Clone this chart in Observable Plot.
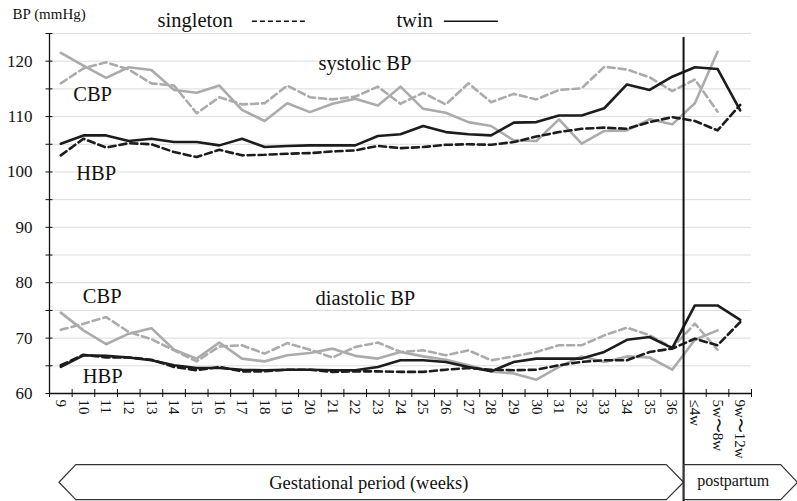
<!DOCTYPE html>
<html><head><meta charset="utf-8">
<script src="https://cdn.jsdelivr.net/npm/d3@7"></script>
<script src="https://cdn.jsdelivr.net/npm/@observablehq/plot@0.6"></script>
<style>body{margin:0;background:#fff} svg{display:block;overflow:visible} svg text{font-family:"Liberation Serif","Times New Roman",serif !important}</style>
</head><body><div id="chart"></div>
<script>
// Categories
const weeks = ["9","10","11","12","13","14","15","16","17","18","19","20","21","22","23","24","25","26","27","28","29","30","31","32","33","34","35","36"];
const postpartum = ["≤4w","5w〜8w","9w〜12w"];
const xLabels = [...weeks, ...postpartum];

// Systolic BP (mmHg)
const sysCBPtwin   = [121.5,119.2,117.0,118.9,118.4,114.8,114.3,115.6,111.2,109.2,112.4,110.8,112.3,113.2,112.0,115.4,111.4,110.7,109.0,108.3,105.7,105.6,109.5,105.1,107.4,107.5,109.5,108.6,112.4,121.7,null];
const sysCBPsingle = [116.0,118.7,119.8,118.5,116.0,115.6,110.6,113.5,112.2,112.4,115.6,113.5,113.1,113.6,115.4,112.3,114.3,112.2,116.0,112.6,114.1,113.1,114.8,115.1,119.0,118.5,117.1,114.6,116.7,110.9,null];
const sysHBPtwin   = [105.1,106.6,106.6,105.6,106.0,105.4,105.4,104.8,106.0,104.5,104.7,104.8,104.8,104.8,106.5,106.8,108.3,107.2,106.8,106.6,108.9,109.0,110.2,110.2,111.5,115.8,114.8,117.2,118.9,118.6,111.1];
const sysHBPsingle = [103.0,106.0,104.4,105.2,105.0,103.6,102.7,104.0,103.0,103.1,103.3,103.4,103.7,103.9,104.7,104.3,104.5,104.9,105.0,104.9,105.4,106.4,107.2,107.8,108.0,107.8,109.0,109.9,109.2,107.5,112.1];
// Diastolic BP (mmHg)
const diaCBPtwin   = [74.6,71.4,68.9,70.8,71.8,67.9,66.3,69.2,66.3,65.8,66.9,67.3,68.1,66.8,66.3,67.5,66.7,66.1,65.1,64.0,63.6,62.5,64.8,66.7,65.7,66.7,66.5,64.3,69.7,71.4,null];
const diaCBPsingle = [71.5,72.6,73.8,71.1,69.8,67.8,65.8,68.5,68.7,67.2,69.1,67.9,66.5,68.4,69.2,67.5,67.8,66.9,67.8,66.0,66.7,67.5,68.7,68.7,70.5,71.9,70.5,68.3,72.6,67.9,null];
const diaHBPtwin   = [64.8,66.9,66.8,66.5,66.0,65.1,64.6,64.6,64.3,64.2,64.3,64.3,64.2,64.2,64.8,66.0,66.0,65.7,64.8,64.0,65.7,66.3,66.3,66.3,67.5,69.7,70.2,68.2,75.9,75.9,73.3];
const diaHBPsingle = [65.1,67.0,66.5,66.5,66.1,64.8,64.2,64.8,64.0,64.0,64.3,64.3,63.9,64.0,64.0,63.9,63.9,64.3,64.6,64.3,64.2,64.3,65.1,65.7,66.0,66.0,67.5,68.1,69.9,68.7,72.9];

const yLabelTicks = [60,65,70,75,80,85,90,95,100,105,110,115,120,125];

const GRAY = "#ababab", BLACK = "#1c1c1c";
const series = [
  {values: sysCBPsingle, stroke: GRAY, dash: "7,4"},
  {values: sysCBPtwin,   stroke: GRAY, dash: null},
  {values: diaCBPsingle, stroke: GRAY, dash: "7,4"},
  {values: diaCBPtwin,   stroke: GRAY, dash: null},
  {values: sysHBPsingle, stroke: BLACK, dash: "7,4"},
  {values: sysHBPtwin,   stroke: BLACK, dash: null},
  {values: diaHBPsingle, stroke: BLACK, dash: "7,4"},
  {values: diaHBPtwin,   stroke: BLACK, dash: null}
];
const toRows = vals => vals.map((v, i) => ({i, v})).filter(d => d.v != null);

const idx = xLabels.map((_, i) => i);
const bounds = [...idx.map(i => i - 0.5), xLabels.length - 0.5];
const split = weeks.length - 0.5;
const serif = "Liberation Serif";

// annotation texts (data coordinates)
const notes = [
  {x: 0.55, y: 112.8, t: "CBP"},
  {x: 0.68, y: 98.5, t: "HBP"},
  {x: 11.38, y: 118.5, t: "systolic BP"},
  {x: 0.97, y: 76.4, t: "CBP"},
  {x: 0.97, y: 61.9, t: "HBP"},
  {x: 11.25, y: 76.0, t: "diastolic BP"}
];
const gestShape = [[-0.08,43.97],[0.66,47.17],[26.74,47.17],[split,43.97],[26.74,40.84],[0.66,40.84],[-0.08,43.97]].map(([x,y])=>({x,y}));
const postShape = [[split,47.17],[31.79,47.17],[32.53,43.97],[31.79,40.84],[split,40.84],[split,47.17]].map(([x,y])=>({x,y}));

const chart = Plot.plot({
  width: 797, height: 501,
  marginLeft: 49, marginRight: 46, marginTop: 33, marginBottom: 108,
  style: {fontFamily: serif, background: "#fff", color: "#111"},
  x: {type: "linear", domain: [-0.5, xLabels.length - 0.5], axis: null},
  y: {type: "linear", domain: [60, 125], axis: null},
  marks: [
    Plot.ruleY(yLabelTicks.filter(d => d > 60), {stroke: "#dcdcdc", strokeWidth: 1}),
    ...series.map(s => Plot.line(toRows(s.values), {x: "i", y: "v", stroke: s.stroke, strokeWidth: 2.6, strokeDasharray: s.dash, strokeLinejoin: "round"})),
    Plot.ruleY([60], {stroke: "#111", strokeWidth: 1.3}),
    Plot.ruleX([-0.5], {stroke: "#111", strokeWidth: 1.3}),
    Plot.ruleX([split], {y1: 124.3, y2: 40.4, stroke: "#111", strokeWidth: 2}),
    Plot.axisY({ticks: yLabelTicks, tickSize: 7, dx: 3.5, tickPadding: 13.5, tickFormat: d => d % 10 === 0 && d <= 120 ? String(d) : "", fontSize: 17, fontFamily: serif, stroke: "#111"}),
    Plot.axisX({ticks: bounds, tickSize: 8, dy: -4, tickFormat: () => "", stroke: "#111"}),
    Plot.axisX({ticks: idx, tickSize: 0, tickPadding: 6, tickRotate: 90, tickFormat: i => xLabels[i], fontSize: 15, fontFamily: serif}),
    Plot.text(notes, {x: "x", y: "y", text: "t", textAnchor: "start", lineAnchor: "bottom", fontSize: 20.5, fontFamily: serif, fill: "#111"}),
    // header & legend
    Plot.text(["BP (mmHg)"], {x: -2.13, y: 128.5, text: d => d, textAnchor: "start", lineAnchor: "middle", fontSize: 15, fontFamily: serif, fill: "#111"}),
    Plot.text(["singleton"], {x: 4.27, y: 127.4, text: d => d, textAnchor: "start", lineAnchor: "middle", fontSize: 20.5, fontFamily: serif, fill: "#111"}),
    Plot.ruleY([127.2], {x1: 8.46, x2: 10.89, stroke: "#111", strokeWidth: 1.5, strokeDasharray: "5,3"}),
    Plot.text(["twin"], {x: 14.82, y: 127.4, text: d => d, textAnchor: "start", lineAnchor: "middle", fontSize: 20.5, fontFamily: serif, fill: "#111"}),
    Plot.ruleY([127.2], {x1: 16.94, x2: 19.32, stroke: "#111", strokeWidth: 1.5}),
    // period bands
    Plot.line(gestShape, {x: "x", y: "y", stroke: "#333", strokeWidth: 1.2, fill: "none"}),
    Plot.line(postShape, {x: "x", y: "y", stroke: "#333", strokeWidth: 1.2, fill: "none"}),
    Plot.text(["Gestational period (weeks)"], {x: 13.6, y: 43.9, text: d => d, fontSize: 18.5, fontFamily: serif, fill: "#111"}),
    Plot.text(["postpartum"], {x: 29.69, y: 44.2, text: d => d, fontSize: 16, fontFamily: serif, fill: "#111"})
  ]
});
document.getElementById("chart").appendChild(chart);
</script></body></html>
